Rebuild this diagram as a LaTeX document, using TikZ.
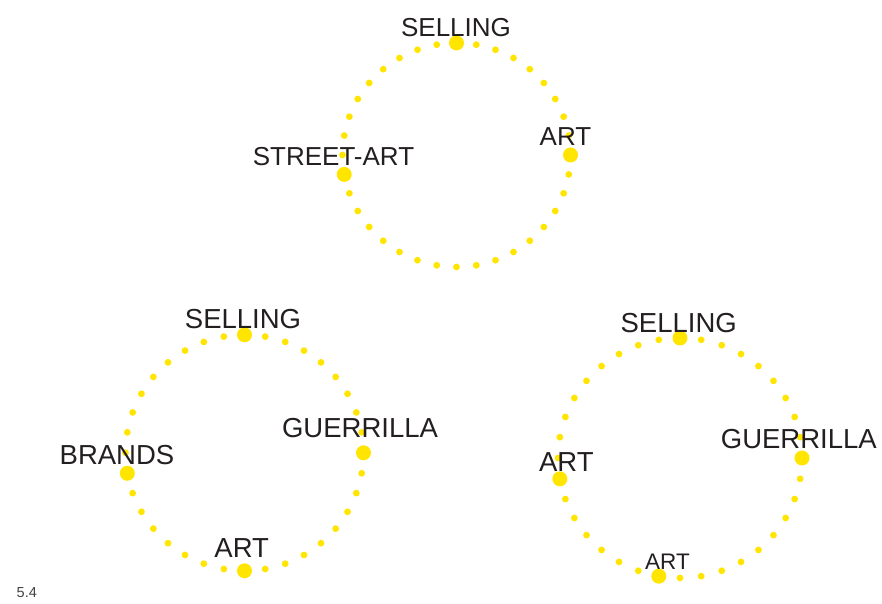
\documentclass[tikz,border=0pt]{standalone}
\usepackage{fontspec}
\setmainfont{Liberation Sans}
\usetikzlibrary{calc}
\definecolor{dotyellow}{HTML}{FFE500}
\definecolor{ink}{HTML}{231F20}
\begin{document}
\begin{tikzpicture}[x=1pt,y=1pt,
  smalldot/.style={fill=dotyellow},
  bigdot/.style={circle,fill=dotyellow,inner sep=0pt,minimum size=15pt},
  lbl/.style={anchor=base,text=ink,inner sep=0pt,font=\fontsize{#1}{#1}\selectfont},
  lbl/.default=27.5]
\useasboundingbox (0,0) rectangle (882,604);

% ring of dots: centre, radii, angles of the big dots
\newcommand{\dotring}[4]{%
  \foreach \a in {0,10,...,350}{%
    \fill[smalldot] ($(#1)+(\a:#2 and #3)$) circle (3.4);
  }%
  \foreach \b/\nm in {#4}{%
    \node[bigdot] (\nm) at ($(#1)+(\b:#2 and #3)$) {};
  }%
}

\coordinate (ctop) at (456.5,449);
\coordinate (cleft) at (244.5,151.2);
\coordinate (cright) at (680,146);

\dotring{ctop}{114}{112}{90/tsell,0/tart,190/tstreet}
\dotring{cleft}{119}{118}{90/lsell,0/lguer,190/lbrand,270/lart}
\dotring{cright}{122}{120}{90/rsell,0/rguer,190/rart,260/rartb}

% top ring
\node[lbl=26] (tsellT) at (456,567) {SELLING};
\node[lbl=26] (tartT) at (565.5,458) {ART};
\node[lbl=26] (tstreetT) at (333.5,438) {STREET-ART};

% lower left ring
\node[lbl] (lsellT) at (243,275) {SELLING};
\node[lbl] (lguerT) at (360,166.3) {GUERRILLA};
\node[lbl] (lbrandT) at (117,139) {BRANDS};
\node[lbl] (lartT) at (241.7,46.3) {ART};

% lower right ring
\node[lbl] (rsellT) at (678.7,271.7) {SELLING};
\node[lbl] (rguerT) at (798.8,155.3) {GUERRILLA};
\node[lbl] (rartT) at (566.3,132.3) {ART};
\node[lbl=22.5] (rartbT) at (667.5,34) {ART};

% figure number
\node[anchor=base west,inner sep=0pt,text=ink!85,font=\fontsize{14.5}{14.5}\selectfont] (fignum) at (16.5,6) {5.4};
\end{tikzpicture}
\end{document}
